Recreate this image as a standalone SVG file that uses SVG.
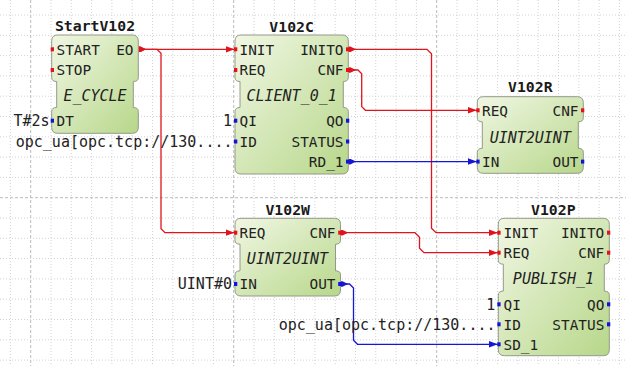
<svg xmlns="http://www.w3.org/2000/svg" width="626" height="366" viewBox="0 0 626 366">
<defs>
<linearGradient id="g" x1="0" y1="0" x2="1" y2="1">
<stop offset="0" stop-color="#f1f7e4"/>
<stop offset="1" stop-color="#b7d78a"/>
</linearGradient>
<marker id="ae" markerUnits="userSpaceOnUse" markerWidth="10" markerHeight="8" refX="9" refY="4" orient="auto" viewBox="0 0 10 8"><path d="M0,0.7 L9,4 L0,7.3 Z" fill="#e0141c"/></marker>
<marker id="as" markerUnits="userSpaceOnUse" markerWidth="10" markerHeight="6" refX="0" refY="3" orient="auto" viewBox="0 0 10 6"><path d="M0,0.2 H4.3 L10,3 L4.3,5.8 H0 Z" fill="#e0141c"/></marker>
<marker id="be" markerUnits="userSpaceOnUse" markerWidth="10" markerHeight="8" refX="9" refY="4" orient="auto" viewBox="0 0 10 8"><path d="M0,0.7 L9,4 L0,7.3 Z" fill="#1616d6"/></marker>
<marker id="bs" markerUnits="userSpaceOnUse" markerWidth="10" markerHeight="6" refX="0" refY="3" orient="auto" viewBox="0 0 10 6"><path d="M0,0.2 H4.3 L10,3 L4.3,5.8 H0 Z" fill="#1616d6"/></marker>
<style>
text{font-family:"DejaVu Sans Mono","Liberation Mono",monospace;fill:#222}
.lbl{font-size:14.4px}
.ttl{font-size:14.8px;font-weight:bold;text-anchor:middle;fill:#1a1a1a}
.typ{font-size:15px;font-style:italic;text-anchor:middle}
.val{font-size:15px;text-anchor:end}
.r{text-anchor:end}
.blk{fill:url(#g);stroke:#939a88;stroke-width:1}
.ev{fill:#e6121a}
.da{fill:#1414d8}
.ce{fill:none;stroke:#e0141c;stroke-width:1.3;marker-start:url(#as);marker-end:url(#ae)}
.cd{fill:none;stroke:#1616d6;stroke-width:1.3;marker-start:url(#bs);marker-end:url(#be)}
.gmin{fill:none;stroke:#d2d2d2;stroke-width:1;stroke-dasharray:1 2}
.gmaj{fill:none;stroke:#bcbcbc;stroke-width:1;stroke-dasharray:3 2}
</style>
</defs>
<rect width="626" height="366" fill="#fff"/>
<g id="grid">
<path class="gmin" d="M10.4,0V366M51,0V366M71.3,0V366M91.6,0V366M111.9,0V366M132.2,0V366M152.5,0V366M172.8,0V366M193.1,0V366M213.4,0V366M254,0V366M274.3,0V366M294.6,0V366M314.9,0V366M335.2,0V366M355.5,0V366M375.8,0V366M396.1,0V366M416.4,0V366M457,0V366M477.3,0V366M497.6,0V366M517.9,0V366M538.2,0V366M558.5,0V366M578.8,0V366M599.1,0V366M619.4,0V366M0,15H626M0,35.3H626M0,55.6H626M0,75.9H626M0,96.2H626M0,116.5H626M0,136.8H626M0,157.1H626M0,177.4H626M0,218H626M0,238.3H626M0,258.6H626M0,278.9H626M0,299.2H626M0,319.5H626M0,339.8H626M0,360.1H626"/>
<path class="gmaj" d="M30.7,0V366M233.7,0V366M436.7,0V366M0,197.7H626"/>
</g>
<g id="connectors">
<path id="c1" class="ce" d="M136,49.3 H234.5"/>
<path id="c2" class="ce" d="M136,49.3 H157 L161,53.3 V228.7 L165,232.7 H234.5"/>
<path id="c3" class="ce" d="M346,49.3 H427 L431.5,53.8 V228.2 L436,232.7 H497.8"/>
<path id="c4" class="ce" d="M346,70 H358 L361.7,73.7 V106.6 L365.4,110.3 H476.8"/>
<path id="c5" class="cd" d="M346,161.6 H476.8"/>
<path id="c6" class="ce" d="M338.2,232.7 H415 L419.5,237.2 V248.2 L424,252.7 H497.8"/>
<path id="c7" class="cd" d="M338.2,284 H349.5 L353.5,288 V340.3 L357.5,344.3 H497.8"/>
</g>
<g id="StartV102">
<text class="ttl" x="95" y="31">StartV102</text>
<path class="blk" d="M57.7,35 H132.3 Q138.3,35 138.3,41 V77.5 Q138.3,81.5 133.3,81.5 V107.5 Q138.3,107.5 138.3,111.5 V127.3 Q138.3,133.3 132.3,133.3 H57.7 Q51.7,133.3 51.7,127.3 V111.5 Q51.7,107.5 56.7,107.5 V81.5 Q51.7,81.5 51.7,77.5 V41 Q51.7,35 57.7,35 Z"/>
<rect class="ev" x="50.7" y="47.3" width="3.3" height="4"/>
<rect class="ev" x="50.7" y="68" width="3.3" height="4"/>
<rect class="da" x="50.7" y="118.7" width="3.3" height="4"/>
<text class="lbl" x="56.5" y="54.6">START</text>
<text class="lbl" x="56.5" y="75.3">STOP</text>
<text class="lbl r" x="133.5" y="54.6">EO</text>
<text class="typ" x="95" y="101.3">E_CYCLE</text>
<text class="lbl" x="56.5" y="126">DT</text>
<text class="val" x="49.5" y="126.1">T#2s</text>
</g>
<g id="V102C">
<text class="ttl" x="291.6" y="31.5">V102C</text>
<path class="blk" d="M241,35 H342.3 Q348.3,35 348.3,41 V77.5 Q348.3,81.5 343.3,81.5 V107.5 Q348.3,107.5 348.3,111.5 V168 Q348.3,174 342.3,174 H241 Q235,174 235,168 V111.5 Q235,107.5 240,107.5 V81.5 Q235,81.5 235,77.5 V41 Q235,35 241,35 Z"/>
<rect class="ev" x="234" y="47.3" width="3.3" height="4"/>
<rect class="ev" x="234" y="68" width="3.3" height="4"/>
<rect class="da" x="234" y="118.7" width="3.3" height="4"/>
<rect class="da" x="234" y="139.5" width="3.3" height="4"/>
<rect class="ev" x="346" y="47.3" width="3.3" height="4"/>
<rect class="ev" x="346" y="68" width="3.3" height="4"/>
<rect class="da" x="346" y="118.7" width="3.3" height="4"/>
<rect class="da" x="346" y="139.5" width="3.3" height="4"/>
<rect class="da" x="346" y="159.6" width="3.3" height="4"/>
<text class="lbl" x="239.5" y="54.6">INIT</text>
<text class="lbl" x="239.5" y="75.3">REQ</text>
<text class="lbl r" x="343.5" y="54.6">INITO</text>
<text class="lbl r" x="343.5" y="75.3">CNF</text>
<text class="typ" x="291.6" y="101.3">CLIENT_0_1</text>
<text class="lbl" x="239.5" y="126">QI</text>
<text class="lbl" x="239.5" y="146.8">ID</text>
<text class="lbl r" x="343.5" y="126">QO</text>
<text class="lbl r" x="343.5" y="146.8">STATUS</text>
<text class="lbl r" x="343.5" y="166.9">RD_1</text>
<text class="val" x="232" y="126.1">1</text>
<text class="val" x="232.5" y="146.9">opc_ua[opc.tcp://130....</text>
</g>
<g id="V102R">
<text class="ttl" x="530.3" y="92.3">V102R</text>
<path class="blk" d="M483.3,96.7 H577.3 Q583.3,96.7 583.3,102.7 V117.8 Q583.3,121.8 578.3,121.8 V148.3 Q583.3,148.3 583.3,152.3 V167.3 Q583.3,173.3 577.3,173.3 H483.3 Q477.3,173.3 477.3,167.3 V152.3 Q477.3,148.3 482.3,148.3 V121.8 Q477.3,121.8 477.3,117.8 V102.7 Q477.3,96.7 483.3,96.7 Z"/>
<rect class="ev" x="476.3" y="108.3" width="3.3" height="4"/>
<rect class="da" x="476.3" y="159.6" width="3.3" height="4"/>
<rect class="ev" x="581" y="108.3" width="3.3" height="4"/>
<rect class="da" x="581" y="159.6" width="3.3" height="4"/>
<text class="lbl" x="482" y="115.6">REQ</text>
<text class="lbl r" x="578.5" y="115.6">CNF</text>
<text class="typ" x="530.3" y="142.5">UINT2UINT</text>
<text class="lbl" x="482" y="166.9">IN</text>
<text class="lbl r" x="578.5" y="166.9">OUT</text>
</g>
<g id="V102W">
<text class="ttl" x="287.7" y="214.8">V102W</text>
<path class="blk" d="M241,218.3 H334.5 Q340.5,218.3 340.5,224.3 V240.2 Q340.5,244.2 335.5,244.2 V270.8 Q340.5,270.8 340.5,274.8 V290 Q340.5,296 334.5,296 H241 Q235,296 235,290 V274.8 Q235,270.8 240,270.8 V244.2 Q235,244.2 235,240.2 V224.3 Q235,218.3 241,218.3 Z"/>
<rect class="ev" x="234" y="230.7" width="3.3" height="4"/>
<rect class="da" x="234" y="282" width="3.3" height="4"/>
<rect class="ev" x="338.2" y="230.7" width="3.3" height="4"/>
<rect class="da" x="338.2" y="282" width="3.3" height="4"/>
<text class="lbl" x="239.5" y="238">REQ</text>
<text class="lbl r" x="335.5" y="238">CNF</text>
<text class="typ" x="287.5" y="264">UINT2UINT</text>
<text class="lbl" x="239.5" y="289.3">IN</text>
<text class="lbl r" x="335.5" y="289.3">OUT</text>
<text class="val" x="232" y="289.4">UINT#0</text>
</g>
<g id="V102P">
<text class="ttl" x="553.3" y="214.8">V102P</text>
<path class="blk" d="M504.3,218.3 H603.3 Q609.3,218.3 609.3,224.3 V260.2 Q609.3,264.2 604.3,264.2 V291.1 Q609.3,291.1 609.3,295.1 V349.7 Q609.3,355.7 603.3,355.7 H504.3 Q498.3,355.7 498.3,349.7 V295.1 Q498.3,291.1 503.3,291.1 V264.2 Q498.3,264.2 498.3,260.2 V224.3 Q498.3,218.3 504.3,218.3 Z"/>
<rect class="ev" x="497.3" y="230.7" width="3.3" height="4"/>
<rect class="ev" x="497.3" y="250.7" width="3.3" height="4"/>
<rect class="da" x="497.3" y="302.3" width="3.3" height="4"/>
<rect class="da" x="497.3" y="322.3" width="3.3" height="4"/>
<rect class="da" x="497.3" y="342.3" width="3.3" height="4"/>
<rect class="ev" x="607" y="230.7" width="3.3" height="4"/>
<rect class="ev" x="607" y="250.7" width="3.3" height="4"/>
<rect class="da" x="607" y="302.3" width="3.3" height="4"/>
<rect class="da" x="607" y="322.3" width="3.3" height="4"/>
<text class="lbl" x="503.5" y="238">INIT</text>
<text class="lbl" x="503.5" y="258">REQ</text>
<text class="lbl r" x="604.3" y="238">INITO</text>
<text class="lbl r" x="604.3" y="258">CNF</text>
<text class="typ" x="553.5" y="284">PUBLISH_1</text>
<text class="lbl" x="503.5" y="309.6">QI</text>
<text class="lbl" x="503.5" y="329.6">ID</text>
<text class="lbl" x="503.5" y="349.6">SD_1</text>
<text class="lbl r" x="604.3" y="309.6">QO</text>
<text class="lbl r" x="604.3" y="329.6">STATUS</text>
<text class="val" x="495.3" y="309.7">1</text>
<text class="val" x="495.5" y="329.7">opc_ua[opc.tcp://130....</text>
</g>
</svg>
